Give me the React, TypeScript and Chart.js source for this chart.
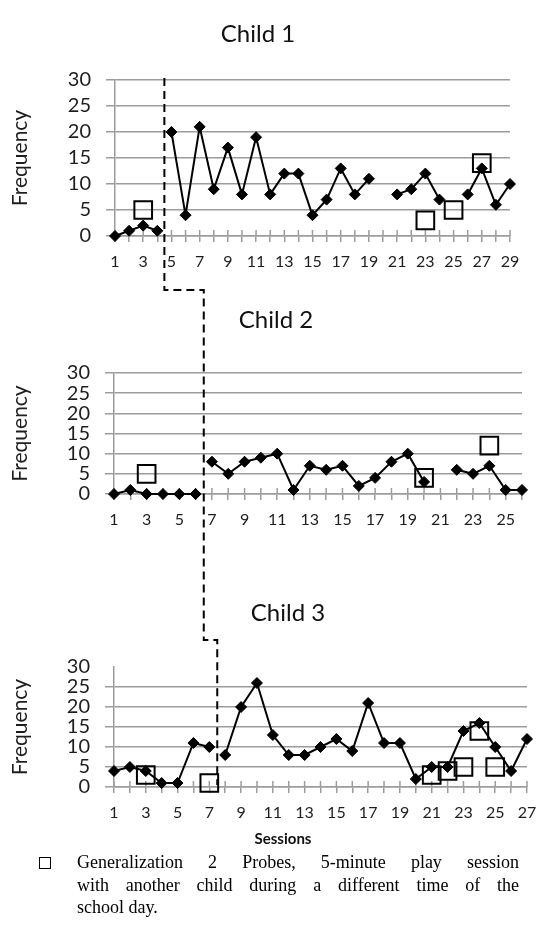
import React, { useEffect, useRef } from "react";
import { Chart, registerables } from "chart.js";

Chart.register(...registerables);

// ---------- Data ----------
const yTickValues = [0, 5, 10, 15, 20, 25, 30];

const child1BaselineSessions = [1, 2, 3, 4];
const child1BaselineValues = [0, 1, 2, 1];
const child1TreatmentSessions = [5, 6, 7, 8, 9, 10, 11, 12, 13, 14, 15, 16, 17, 18, 19, 20, 21, 22, 23, 24, 25, 26, 27, 28, 29];
const child1TreatmentValues = [20, 4, 21, 9, 17, 8, 19, 8, 12, 12, 4, 7, 13, 8, 11, null, 8, 9, 12, 7, null, 8, 13, 6, 10];
const child1ProbeSessions = [3, 23, 25, 27];
const child1ProbeValues = [5, 3, 5, 14];

const child2BaselineSessions = [1, 2, 3, 4, 5, 6];
const child2BaselineValues = [0, 1, 0, 0, 0, 0];
const child2TreatmentSessions = [7, 8, 9, 10, 11, 12, 13, 14, 15, 16, 17, 18, 19, 20, 21, 22, 23, 24, 25, 26];
const child2TreatmentValues = [8, 5, 8, 9, 10, 1, 7, 6, 7, 2, 4, 8, 10, 3, null, 6, 5, 7, 1, 1];
const child2ProbeSessions = [3, 20, 24];
const child2ProbeValues = [5, 4, 12];

const child3BaselineSessions = [1, 2, 3, 4, 5, 6, 7];
const child3BaselineValues = [4, 5, 4, 1, 1, 11, 10];
const child3TreatmentSessions = [8, 9, 10, 11, 12, 13, 14, 15, 16, 17, 18, 19, 20, 21, 22, 23, 24, 25, 26, 27];
const child3TreatmentValues = [8, 20, 26, 13, 8, 8, 10, 12, 9, 21, 11, 11, 2, 5, 5, 14, 16, 10, 4, 12];
const child3ProbeSessions = [3, 7, 21, 22, 23, 24, 25];
const child3ProbeValues = [3, 1, 3, 4, 5, 14, 5];

const phaseChangeAfter = [4.5, 6.5, 7.5];
const titles = ["Child 1", "Child 2", "Child 3"];

// ---------- Layout ----------
const W = 559;
const H = 932;
const GRID = "#9c9c9c";
const TEXT = "#1e1e1e";
const FONT = "Lato, 'Open Sans', sans-serif";

type Panel = {
  top: number;
  height: number;
  areaTop: number;
  areaBottom: number;
  areaLeft: number;
  areaRight: number;
  xMax: number;
  hideTopGrid: boolean;
  bSess: number[];
  bVals: (number | null)[];
  tSess: number[];
  tVals: (number | null)[];
  pSess: number[];
  pVals: number[];
};

const panels: Panel[] = [
  { top: 0, height: 290, areaTop: 80, areaBottom: 236, areaLeft: 115, areaRight: 510, xMax: 29, hideTopGrid: false,
    bSess: child1BaselineSessions, bVals: child1BaselineValues, tSess: child1TreatmentSessions, tVals: child1TreatmentValues,
    pSess: child1ProbeSessions, pVals: child1ProbeValues },
  { top: 340, height: 200, areaTop: 373, areaBottom: 494, areaLeft: 114, areaRight: 522, xMax: 26, hideTopGrid: false,
    bSess: child2BaselineSessions, bVals: child2BaselineValues, tSess: child2TreatmentSessions, tVals: child2TreatmentValues,
    pSess: child2ProbeSessions, pVals: child2ProbeValues },
  { top: 640, height: 190, areaTop: 665, areaBottom: 787, areaLeft: 114, areaRight: 527, xMax: 27, hideTopGrid: true,
    bSess: child3BaselineSessions, bVals: child3BaselineValues, tSess: child3TreatmentSessions, tVals: child3TreatmentValues,
    pSess: child3ProbeSessions, pVals: child3ProbeValues },
];

const titlePos = [
  { x: 258, y: 32 },
  { x: 276, y: 318 },
  { x: 288, y: 611 },
];

const crossTicks = {
  id: "crossTicks",
  beforeDatasetsDraw(chart: any) {
    const s = chart.scales.x;
    const { ctx, chartArea } = chart;
    ctx.save();
    ctx.strokeStyle = GRID;
    ctx.lineWidth = 1.5;
    s.ticks.forEach((t: any) => {
      const px = s.getPixelForValue(t.value);
      ctx.beginPath();
      ctx.moveTo(px, chartArea.bottom - 6);
      ctx.lineTo(px, chartArea.bottom);
      ctx.stroke();
    });
    ctx.restore();
  },
};

function pts(xs: number[], ys: (number | null)[]) {
  return xs.map((x, i) => ({ x, y: ys[i] }));
}

function makeChart(canvas: HTMLCanvasElement, p: Panel) {
  const lineDs = (data: any) => ({
    data,
    borderColor: "#000",
    borderWidth: 2,
    pointStyle: "rectRot",
    pointRadius: 5.5,
    pointBackgroundColor: "#000",
    pointBorderColor: "#000",
    pointBorderWidth: 1,
    spanGaps: false,
    clip: false,
    tension: 0,
    order: 2,
  });
  return new Chart(canvas, {
    type: "line",
    data: {
      datasets: [
        { label: "Baseline", ...lineDs(pts(p.bSess, p.bVals)) },
        { label: "Intervention", ...lineDs(pts(p.tSess, p.tVals)) },
        {
          label: "Generalization 2 Probes",
          data: pts(p.pSess, p.pVals),
          showLine: false,
          pointStyle: "rect",
          pointRadius: 12.5,
          pointBorderWidth: 2,
          pointBorderColor: "#000",
          pointBackgroundColor: "rgba(0,0,0,0)",
          clip: false,
          order: 1,
        } as any,
      ],
    },
    options: {
      responsive: false,
      animation: false,
      events: [],
      layout: { padding: { top: p.areaTop - p.top, right: W - p.areaRight, left: 0, bottom: 0 } },
      plugins: { legend: { display: false }, tooltip: { enabled: false }, title: { display: false } },
      scales: {
        x: {
          type: "linear",
          min: 1,
          max: p.xMax,
          afterFit: (s: any) => {
            s.height = p.top + p.height - p.areaBottom;
          },
          ticks: {
            stepSize: 1,
            autoSkip: false,
            maxRotation: 0,
            minRotation: 0,
            padding: 10,
            color: TEXT,
            font: { family: FONT, size: 16 },
            callback: (v: any) => (Number(v) % 2 === 1 ? String(v) : ""),
          },
          grid: { drawOnChartArea: false, drawTicks: true, tickLength: 6, color: GRID, lineWidth: 1.5 },
          border: { color: GRID, width: 1.5 },
        },
        y: {
          type: "linear",
          min: 0,
          max: 30,
          afterFit: (s: any) => {
            s.width = p.areaLeft;
          },
          afterBuildTicks: (s: any) => {
            s.ticks = yTickValues.map((v) => ({ value: v }));
          },
          ticks: {
            stepSize: 5,
            autoSkip: false,
            padding: 15,
            color: TEXT,
            font: { family: FONT, size: 20 },
          },
          grid: {
            color: (ctx: any) => (p.hideTopGrid && ctx.tick && ctx.tick.value === 30 ? "rgba(0,0,0,0)" : GRID),
            lineWidth: 1.5,
            tickLength: 9,
          },
          border: { color: GRID, width: 1.5 },
          title: {
            display: true,
            text: "Frequency",
            color: TEXT,
            font: { family: FONT, size: 21 },
            padding: { top: 8, bottom: 0 },
          },
        },
      },
    } as any,
    plugins: [crossTicks],
  });
}

export default function App() {
  const refs = [useRef<HTMLCanvasElement>(null), useRef<HTMLCanvasElement>(null), useRef<HTMLCanvasElement>(null)];
  const overlayRef = useRef<HTMLCanvasElement>(null);

  useEffect(() => {
    const charts = panels.map((p, i) => makeChart(refs[i].current as HTMLCanvasElement, p));
    const ov = overlayRef.current as HTMLCanvasElement;
    const dpr = window.devicePixelRatio || 1;
    ov.width = W * dpr;
    ov.height = H * dpr;
    const ctx = ov.getContext("2d") as CanvasRenderingContext2D;
    ctx.setTransform(dpr, 0, 0, dpr, 0, 0);
    ctx.clearRect(0, 0, W, H);
    const xs = charts.map((c, i) => c.scales.x.getPixelForValue(phaseChangeAfter[i]));
    const top1 = panels[0].top + (charts[0].chartArea as any).top - 2;
    const join1 = panels[0].top + (charts[0].chartArea as any).bottom + 54;
    const join2 = panels[2].top + (charts[2].chartArea as any).top - 27;
    const end3 = panels[2].top + (charts[2].chartArea as any).bottom - 2;
    ctx.save();
    ctx.strokeStyle = "#000";
    ctx.lineWidth = 2;
    ctx.setLineDash([8, 5]);
    ctx.beginPath();
    ctx.moveTo(xs[0], top1);
    ctx.lineTo(xs[0], join1);
    ctx.lineTo(xs[1], join1);
    ctx.lineTo(xs[1], join2);
    ctx.lineTo(xs[2], join2);
    ctx.lineTo(xs[2], end3);
    ctx.stroke();
    ctx.restore();
    return () => {
      charts.forEach((c) => c.destroy());
    };
  }, []);

  return (
    <div style={{ position: "absolute", left: 0, top: 0, width: W, height: H, background: "#fff", overflow: "hidden" }}>
      {panels.map((p, i) => (
        <canvas
          key={i}
          ref={refs[i]}
          width={W}
          height={p.height}
          style={{ position: "absolute", left: 0, top: p.top, width: W, height: p.height }}
        />
      ))}
      <canvas
        ref={overlayRef}
        style={{ position: "absolute", left: 0, top: 0, width: W, height: H, pointerEvents: "none" }}
      />
      {titles.map((t, i) => (
        <div
          key={t}
          style={{
            position: "absolute",
            left: titlePos[i].x,
            top: titlePos[i].y,
            transform: "translate(-50%, -50%)",
            fontFamily: FONT,
            fontSize: 24,
            color: "#111",
            whiteSpace: "nowrap",
          }}
        >
          {t}
        </div>
      ))}
      <div
        style={{
          position: "absolute",
          left: 283,
          top: 838,
          transform: "translate(-50%, -50%)",
          fontFamily: FONT,
          fontWeight: 700,
          fontSize: 15,
          color: "#111",
        }}
      >
        Sessions
      </div>
      <div
        style={{
          position: "absolute",
          left: 39,
          top: 857,
          width: 10,
          height: 10,
          border: "1.5px solid #000",
        }}
      />
      <div
        style={{
          position: "absolute",
          left: 77,
          top: 851,
          width: 442,
          fontFamily: "'Liberation Serif', 'Times New Roman', serif",
          fontSize: 18,
          lineHeight: "22.5px",
          color: "#000",
        }}
      >
        <div style={{ textAlign: "justify", textAlignLast: "justify" } as any}>Generalization 2 Probes, 5-minute play session</div>
        <div style={{ textAlign: "justify", textAlignLast: "justify" } as any}>with another child during a different time of the</div>
        <div>school day.</div>
      </div>
    </div>
  );
}
